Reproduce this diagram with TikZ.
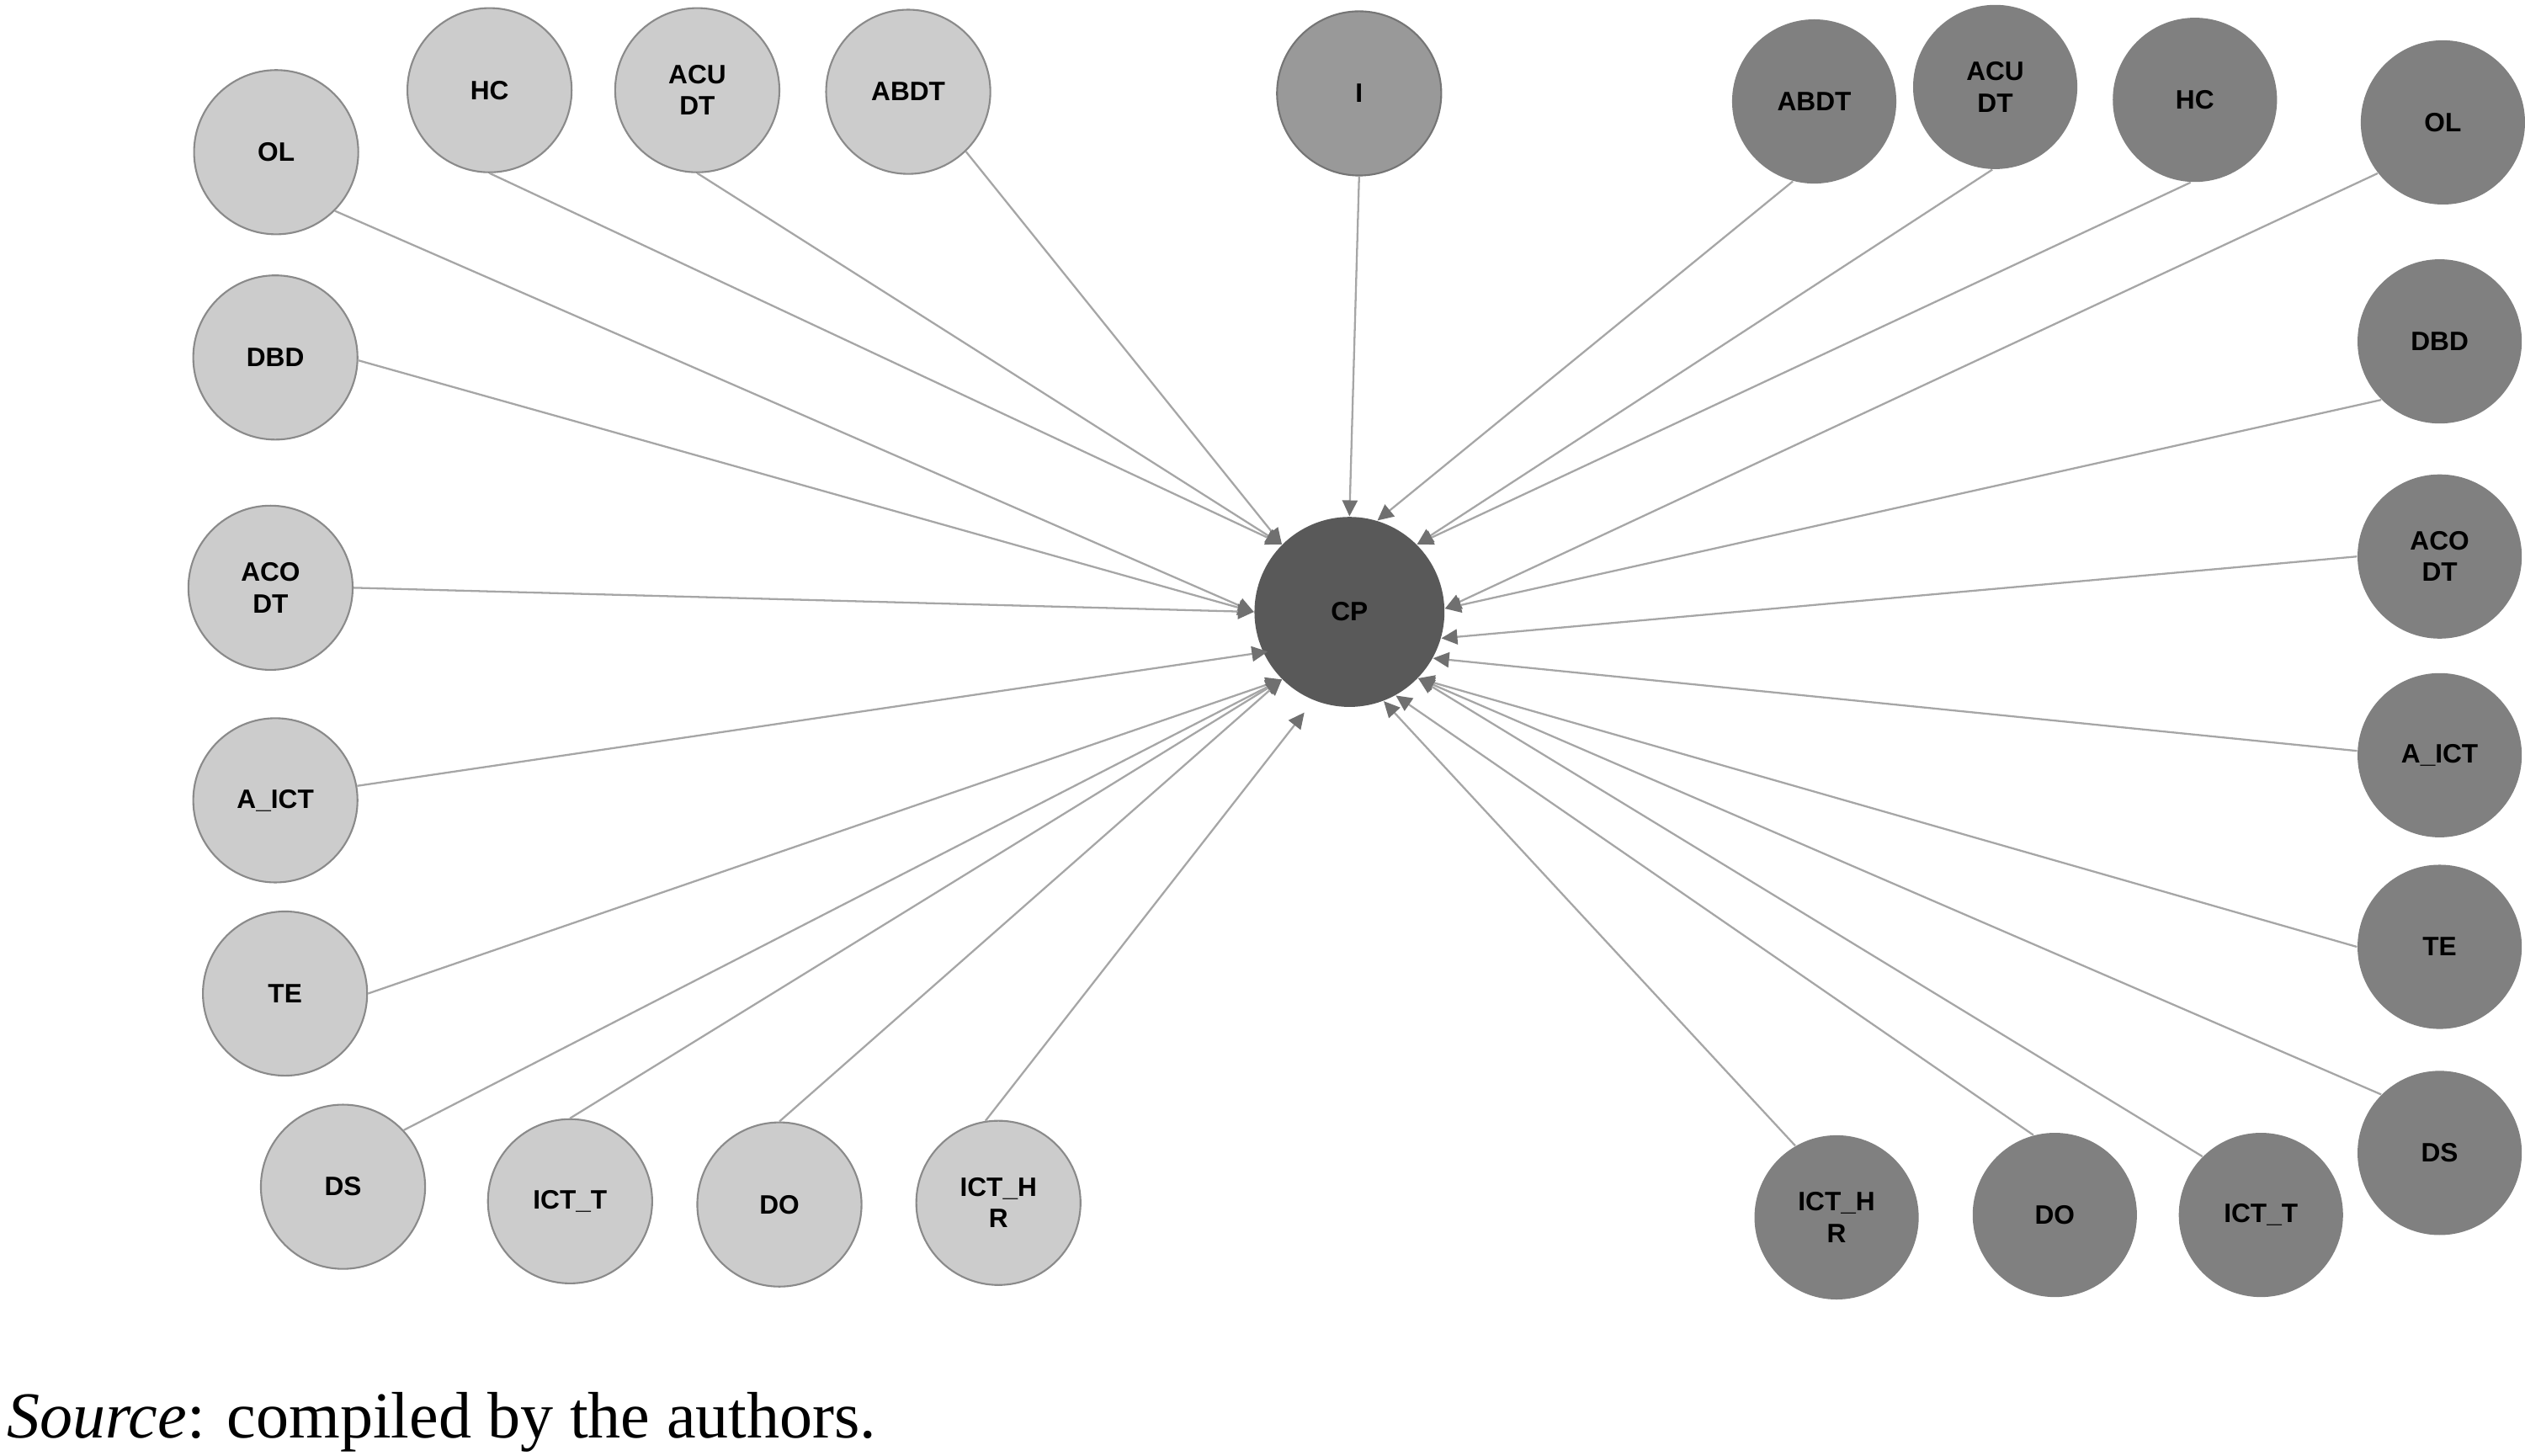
\documentclass[tikz,border=0pt]{standalone}
\usepackage{fontspec}
\setmainfont{Liberation Serif}
\newfontfamily\lblfont{Liberation Sans}
\usetikzlibrary{arrows.meta}
\definecolor{lfill}{HTML}{CCCCCC}
\definecolor{ldraw}{HTML}{8A8A8A}
\definecolor{rfill}{HTML}{808080}
\definecolor{ifill}{HTML}{999999}
\definecolor{cpfill}{HTML}{595959}
\definecolor{edgec}{HTML}{A6A6A6}
\definecolor{tipc}{HTML}{707070}
\begin{document}
\begin{tikzpicture}[x=0.0191327cm,y=-0.0191327cm,
 base/.style={circle,inner sep=0pt,minimum size=1.9515cm,align=center,font=\lblfont\bfseries\fontsize{9}{10.6}\selectfont,text=black},
 lnode/.style={base,fill=lfill,draw=ldraw,line width=0.6pt},
 rnode/.style={base,fill=rfill},
 inode/.style={base,fill=ifill,draw=ldraw!85!black,line width=0.6pt},
 cpnode/.style={base,fill=cpfill,minimum size=2.2577cm},
 conn/.style={draw=edgec,line width=0.65pt,-{Triangle[length=0.19cm,width=0.18cm,color=tipc]}},
]
\useasboundingbox (0,0) rectangle (1568,904);
% left nodes
\node[lnode] (OLl) at (171.5,94.5) {OL};
\node[lnode] (HCl) at (304,56) {HC};
\node[lnode] (ACUl) at (433,56) {ACU\\DT};
\node[lnode] (ABDTl) at (564,57) {ABDT};
\node[lnode] (DBDl) at (171,222) {DBD};
\node[lnode] (ACOl) at (168,365) {ACO\\DT};
\node[lnode] (AICTl) at (171,497) {A\_ICT};
\node[lnode] (TEl) at (177,617) {TE};
\node[lnode] (DSl) at (213,737) {DS};
\node[lnode] (ICTTl) at (354,746) {ICT\_T};
\node[lnode] (DOl) at (484,748) {DO};
\node[lnode] (ICTHRl) at (620,747) {ICT\_H\\R};
% centre
\node[inode] (I) at (844,58) {I};
\node[cpnode] (CP) at (838,380) {CP};
% right nodes
\node[rnode] (ABDTr) at (1126.6,63) {ABDT};
\node[rnode] (ACUr) at (1239,54) {ACU\\DT};
\node[rnode] (HCr) at (1363,62) {HC};
\node[rnode] (OLr) at (1517,76) {OL};
\node[rnode] (DBDr) at (1515,212) {DBD};
\node[rnode] (ACOr) at (1515,345.6) {ACO\\DT};
\node[rnode] (AICTr) at (1515,469) {A\_ICT};
\node[rnode] (TEr) at (1515,588) {TE};
\node[rnode] (DSr) at (1515,716) {DS};
\node[rnode] (ICTTr) at (1404,754.5) {ICT\_T};
\node[rnode] (DOr) at (1276,754.5) {DO};
\node[rnode] (ICTHRr) at (1140.5,756) {ICT\_H\\R};
% connectors
\draw[conn] (I.-90) -- (CP.90);
\draw[conn] (ABDTr.-105) -- (CP.73);
\draw[conn] (ACUr.-92) -- (CP.45);
\draw[conn] (HCr.-93) -- (CP.45);
\draw[conn] (OLr.-142) -- (CP.2);
\draw[conn] (DBDr.-135) -- (CP.2);
\draw[conn] (ACOr.180) -- (CP.-16.5);
\draw[conn] (AICTr.177) -- (CP.-29);
\draw[conn] (TEr.180) -- (CP.-44.5);
\draw[conn] (DSr.135) -- (CP.-44.5);
\draw[conn] (ICTTr.135) -- (CP.-44.5);
\draw[conn] (DOr.105) -- (CP.-61);
\draw[conn] (ICTHRr.120) -- (CP.-69.5);
\draw[conn] (ABDTl.-46) -- (CP.135);
\draw[conn] (ACUl.-90) -- (CP.135);
\draw[conn] (HCl.-90) -- (CP.135);
\draw[conn] (OLl.-45) -- (CP.180);
\draw[conn] (DBDl.-2) -- (CP.180);
\draw[conn] (ACOl.0) -- (CP.180);
\draw[conn,shorten >=-0.06cm] (AICTl.10) -- (CP.-155);
\draw[conn] (TEl.0) -- (CP.-135);
\draw[conn] (DSl.43) -- (CP.-135);
\draw[conn] (ICTTl.90) -- (CP.-135);
\draw[conn] (DOl.90) -- (CP.-135);
\draw[conn,shorten >=0.18cm] (ICTHRl.99) -- (CP.-112);
% caption
\node[anchor=base west,inner sep=0pt,font=\fontsize{22.2}{26}\selectfont] (src) at (4,893) {\textit{Source}: compiled by the authors.};
\end{tikzpicture}
\end{document}
